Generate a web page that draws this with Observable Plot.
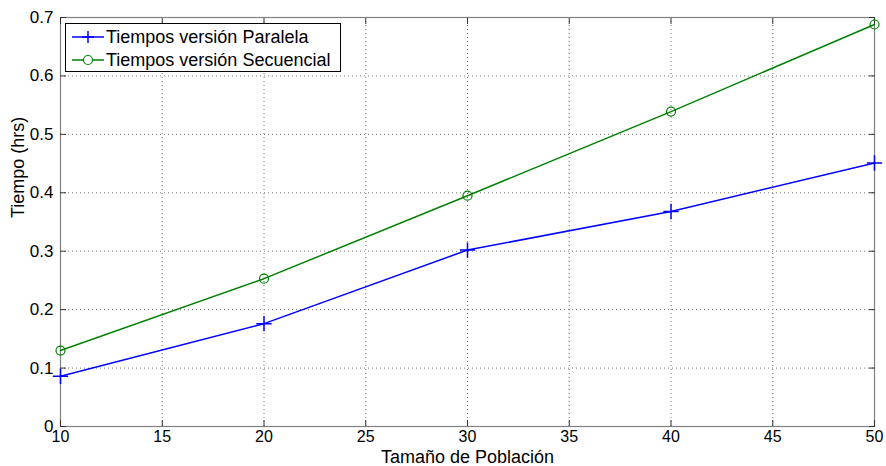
<!DOCTYPE html>
<html><head><meta charset="utf-8">
<script src="https://cdn.jsdelivr.net/npm/d3@7"></script>
<script src="https://cdn.jsdelivr.net/npm/@observablehq/plot@0.6"></script>
<style>
body{margin:0;background:#fff;font-family:"Liberation Sans",Arial,sans-serif;}
#wrap{position:relative;width:886px;height:466px;}
#legend{position:absolute;left:65px;top:23px;width:276px;height:49px;border:1px solid #000;background:#fff;box-sizing:border-box;font-size:18px;}
.row{position:absolute;left:0;height:24px;display:flex;align-items:center;white-space:nowrap;}
.row svg{margin-left:6px;margin-right:2px}
</style></head>
<body><div id="wrap"><div id="chart"></div>
<div id="legend">
<div class="row" style="top:1px"><svg width="32" height="14"><line x1="0" y1="7" x2="32" y2="7" stroke="#0000ff" stroke-width="1.5"/><line x1="16" y1="1" x2="16" y2="13" stroke="#0000ff" stroke-width="1.5"/><line x1="10" y1="7" x2="22" y2="7" stroke="#0000ff" stroke-width="1.5"/></svg><span>Tiempos versión Paralela</span></div>
<div class="row" style="top:24px"><svg width="32" height="14"><line x1="0" y1="7" x2="32" y2="7" stroke="#008000" stroke-width="1.5"/><circle cx="16" cy="7" r="4.5" fill="#fff" stroke="#008000" stroke-width="1.2"/></svg><span>Tiempos versión Secuencial</span></div>
</div></div>
<script>
const poblacion = [10, 20, 30, 40, 50];
const paralela = [0.086, 0.176, 0.302, 0.368, 0.451];
const secuencial = [0.13, 0.253, 0.395, 0.539, 0.688];
const xTicks = [10, 15, 20, 25, 30, 35, 40, 45, 50];
const yTicks = [0, 0.1, 0.2, 0.3, 0.4, 0.5, 0.6, 0.7];

const dPar = poblacion.map((x, i) => ({x, y: paralela[i]}));
const dSeq = poblacion.map((x, i) => ({x, y: secuencial[i]}));
const fmtY = d => d === 0 ? "0" : String(d);

const chart = Plot.plot({
  width: 886, height: 466,
  marginLeft: 60, marginRight: 12, marginTop: 17, marginBottom: 40,
  style: {fontFamily: "'Liberation Sans', Arial, sans-serif", fontSize: "17px", color: "#000", background: "#fff"},
  x: {domain: [10, 50]},
  y: {domain: [0, 0.7]},
  marks: [
    Plot.gridX(xTicks.slice(1, -1), {stroke: "#777", strokeOpacity: 1, strokeDasharray: "1,3"}),
    Plot.gridY(yTicks.slice(1, -1), {stroke: "#777", strokeOpacity: 1, strokeDasharray: "1,3"}),
    Plot.frame({stroke: "#808080", strokeWidth: 1.2}),
    Plot.axisX(xTicks, {anchor: "bottom", tickSize: -6, tickPadding: 10, label: null, stroke: "#333", fontSize: 16}),
    Plot.axisX(xTicks, {anchor: "top", tickSize: -6, tickFormat: () => "", label: null, stroke: "#333"}),
    Plot.axisY(yTicks, {anchor: "left", tickSize: -6, tickPadding: 13, tickFormat: fmtY, label: null, stroke: "#333", fontSize: 17}),
    Plot.axisY(yTicks, {anchor: "right", tickSize: -6, tickFormat: () => "", label: null, stroke: "#333"}),
    Plot.line(dSeq, {x: "x", y: "y", stroke: "#008000", strokeWidth: 1.5}),
    Plot.dot(dSeq, {x: "x", y: "y", r: 4.5, stroke: "#008000", fill: "none", strokeWidth: 1.2}),
    Plot.line(dPar, {x: "x", y: "y", stroke: "#0000ff", strokeWidth: 1.5}),
    Plot.dot(dPar, {x: "x", y: "y", r: 5, symbol: "plus", stroke: "#0000ff", strokeWidth: 1.5}),
    Plot.text(["Tamaño de Población"], {frameAnchor: "bottom", lineAnchor: "middle", dy: 31, fontSize: 18, fill: "#000"}),
    Plot.text(["Tiempo (hrs)"], {frameAnchor: "left", dx: -42, dy: -4, rotate: -90, fontSize: 18, fill: "#000"})
  ]
});
document.getElementById("chart").appendChild(chart);
</script></body></html>
